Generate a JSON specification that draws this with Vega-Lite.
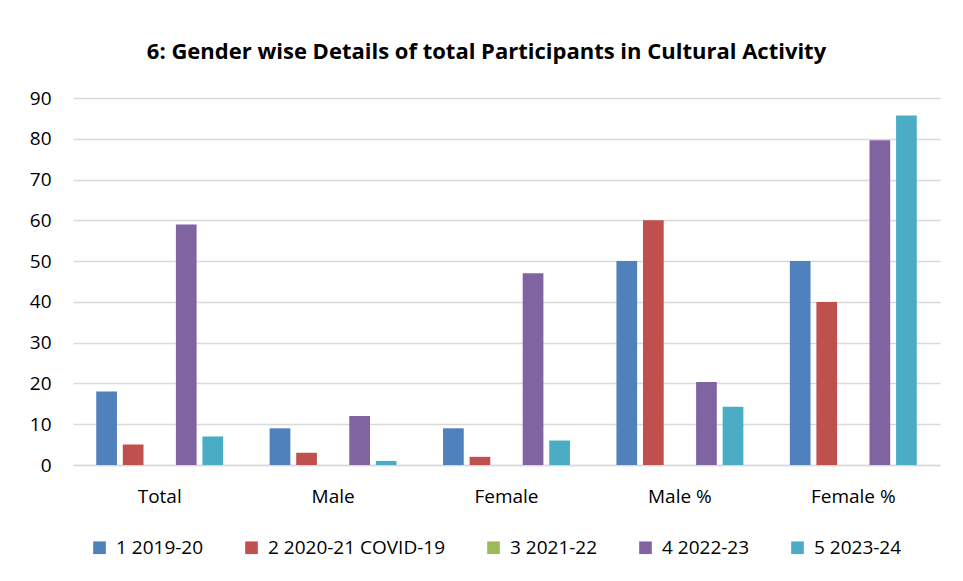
{
  "$schema": "https://vega.github.io/schema/vega-lite/v6.json",
  "width": 867,
  "height": 367,
  "autosize": {"type": "none"},
  "padding": {"left": 73, "top": 98, "right": 23, "bottom": 116},
  "background": "white",
  "title": {
    "text": "6: Gender wise Details of total Participants in Cultural Activity",
    "font": "Open Sans",
    "fontSize": 22,
    "fontWeight": "bold",
    "color": "#000000",
    "anchor": "middle",
    "dx": -20,
    "offset": 25
  },
  "data": {
    "values": [
      {"category": "Total", "series": "1 2019-20", "value": 18},
      {"category": "Total", "series": "2 2020-21 COVID-19", "value": 5},
      {"category": "Total", "series": "3 2021-22", "value": 0},
      {"category": "Total", "series": "4 2022-23", "value": 59},
      {"category": "Total", "series": "5 2023-24", "value": 7},
      {"category": "Male", "series": "1 2019-20", "value": 9},
      {"category": "Male", "series": "2 2020-21 COVID-19", "value": 3},
      {"category": "Male", "series": "3 2021-22", "value": 0},
      {"category": "Male", "series": "4 2022-23", "value": 12},
      {"category": "Male", "series": "5 2023-24", "value": 1},
      {"category": "Female", "series": "1 2019-20", "value": 9},
      {"category": "Female", "series": "2 2020-21 COVID-19", "value": 2},
      {"category": "Female", "series": "3 2021-22", "value": 0},
      {"category": "Female", "series": "4 2022-23", "value": 47},
      {"category": "Female", "series": "5 2023-24", "value": 6},
      {"category": "Male %", "series": "1 2019-20", "value": 50},
      {"category": "Male %", "series": "2 2020-21 COVID-19", "value": 60},
      {"category": "Male %", "series": "3 2021-22", "value": 0},
      {"category": "Male %", "series": "4 2022-23", "value": 20.34},
      {"category": "Male %", "series": "5 2023-24", "value": 14.29},
      {"category": "Female %", "series": "1 2019-20", "value": 50},
      {"category": "Female %", "series": "2 2020-21 COVID-19", "value": 40},
      {"category": "Female %", "series": "3 2021-22", "value": 0},
      {"category": "Female %", "series": "4 2022-23", "value": 79.66},
      {"category": "Female %", "series": "5 2023-24", "value": 85.71}
    ]
  },
  "mark": {"type": "bar"},
  "encoding": {
    "x": {
      "field": "category",
      "type": "nominal",
      "sort": ["Total", "Male", "Female", "Male %", "Female %"],
      "scale": {"paddingInner": 0.268, "paddingOuter": 0.134},
      "axis": {
        "title": null,
        "labelAngle": 0,
        "labelFont": "Open Sans",
        "labelFontSize": 19,
        "labelColor": "#000000",
        "labelPadding": 22,
        "ticks": false,
        "domainColor": "#D9D9D9",
        "domainWidth": 1.5,
        "grid": false
      }
    },
    "xOffset": {
      "field": "series",
      "type": "nominal",
      "scale": {"paddingInner": 0.22, "paddingOuter": 0}
    },
    "y": {
      "field": "value",
      "type": "quantitative",
      "scale": {"domain": [0, 90], "nice": false},
      "axis": {
        "title": null,
        "values": [0, 10, 20, 30, 40, 50, 60, 70, 80, 90],
        "labelFont": "Open Sans",
        "labelFontSize": 19,
        "labelColor": "#000000",
        "labelPadding": 22,
        "ticks": false,
        "domain": false,
        "grid": true,
        "gridColor": "#D9D9D9",
        "gridWidth": 1.3
      }
    },
    "color": {
      "field": "series",
      "type": "nominal",
      "scale": {
        "domain": ["1 2019-20", "2 2020-21 COVID-19", "3 2021-22", "4 2022-23", "5 2023-24"],
        "range": ["#4F81BD", "#C0504D", "#9BBB59", "#8064A2", "#4BACC6"]
      },
      "legend": {
        "title": null,
        "orient": "none",
        "legendX": 17,
        "legendY": 440,
        "direction": "horizontal",
        "symbolType": "square",
        "symbolSize": 160,
        "symbolStrokeWidth": 0,
        "labelFont": "Open Sans",
        "labelFontSize": 19,
        "labelColor": "#000000",
        "labelLimit": 400,
        "columnPadding": 38,
        "labelOffset": 7
      }
    }
  },
  "config": {
    "view": {"stroke": null}
  }
}
